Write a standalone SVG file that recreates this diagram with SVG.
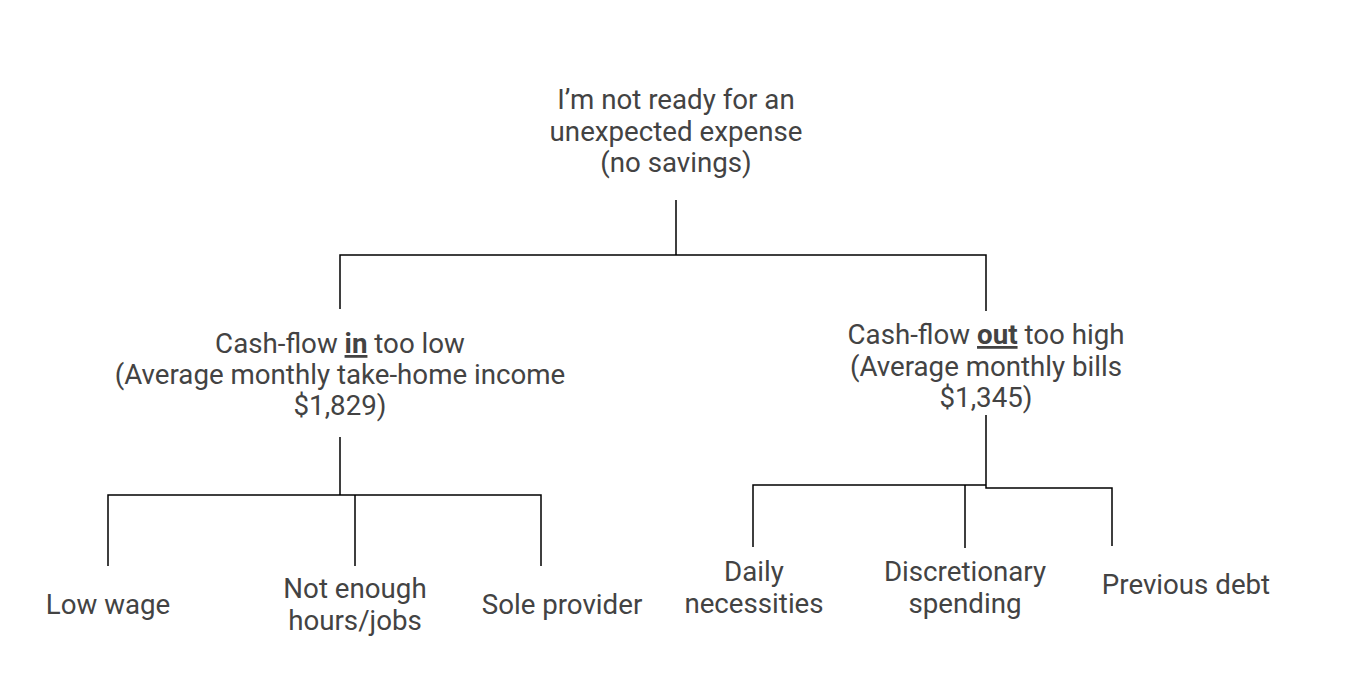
<svg xmlns="http://www.w3.org/2000/svg" width="1364" height="694" viewBox="0 0 1364 694">
<style>
text{font-family:Roboto,"Liberation Sans",sans-serif;font-size:27.7px;fill:#434343;text-anchor:middle}
.b{font-weight:bold;text-decoration:underline}
.c{fill:none;stroke:#000;stroke-width:1.5}
</style>
<rect width="1364" height="694" fill="#fff"/>
<g id="connectors">
<path class="c" d="M676,200V255M340,309V255H986V311"/>
<path class="c" d="M340,437V495M108,566V495H541V566M355,495V566"/>
<path class="c" d="M986,415V488H1112V546M753,547V485H986M965,485V548"/>
</g>
<g id="root"><text x="676" y="109">I’m not ready for an</text><text x="676" y="141">unexpected expense</text><text x="676" y="172">(no savings)</text></g>
<g id="in"><text x="340" y="353">Cash-flow <tspan class="b">in</tspan> too low</text><text x="340" y="384">(Average monthly take-home income</text><text x="340" y="415">$1,829)</text></g>
<g id="out"><text x="986" y="344">Cash-flow <tspan class="b">out</tspan> too high</text><text x="986" y="376">(Average monthly bills</text><text x="986" y="407">$1,345)</text></g>
<g id="low"><text x="108" y="614">Low wage</text></g>
<g id="hours"><text x="355" y="598">Not enough</text><text x="355" y="630">hours/jobs</text></g>
<g id="sole"><text x="562" y="614">Sole provider</text></g>
<g id="daily"><text x="754" y="581">Daily</text><text x="754" y="613">necessities</text></g>
<g id="disc"><text x="965" y="581">Discretionary</text><text x="965" y="613">spending</text></g>
<g id="debt"><text x="1186" y="594">Previous debt</text></g>
</svg>
